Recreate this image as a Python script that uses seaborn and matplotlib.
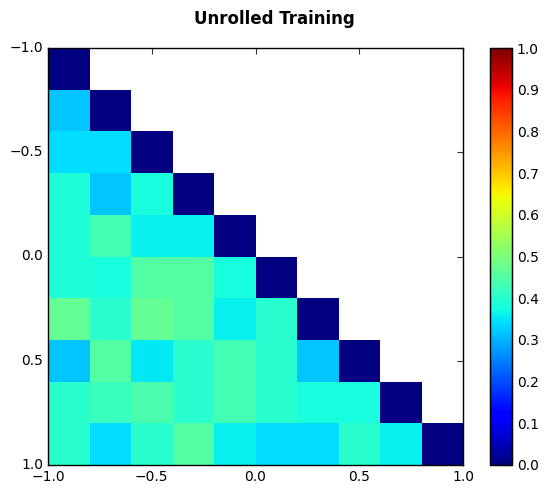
import numpy as np
import seaborn as sns
import matplotlib.pyplot as plt

# valores (triángulo inferior, diagonal = 0)
rows = [
    [0.00],
    [0.32, 0.00],
    [0.34, 0.34, 0.00],
    [0.39, 0.32, 0.38, 0.00],
    [0.39, 0.43, 0.36, 0.36, 0.00],
    [0.39, 0.38, 0.45, 0.45, 0.38, 0.00],
    [0.47, 0.40, 0.47, 0.45, 0.36, 0.40, 0.00],
    [0.32, 0.45, 0.355, 0.40, 0.43, 0.40, 0.32, 0.00],
    [0.40, 0.42, 0.44, 0.40, 0.43, 0.40, 0.38, 0.38, 0.00],
    [0.40, 0.34, 0.40, 0.45, 0.36, 0.34, 0.34, 0.40, 0.36, 0.00],
]
axis_ticks = [-1.0, -0.5, 0.0, 0.5, 1.0]
cbar_ticks = [0.0, 0.1, 0.2, 0.3, 0.4, 0.5, 0.6, 0.7, 0.8, 0.9, 1.0]
title = "Unrolled Training"

n = len(rows)
mat = np.full((n, n), np.nan)
for i, r in enumerate(rows):
    mat[i, :len(r)] = r
mask = np.isnan(mat)

sns.set_style("white")
plt.rcParams["font.family"] = ["DejaVu Sans"]
plt.rcParams["text.color"] = "black"
plt.rcParams["xtick.color"] = "black"
plt.rcParams["ytick.color"] = "black"
plt.rcParams["xtick.direction"] = "in"
plt.rcParams["ytick.direction"] = "in"

fig = plt.figure(figsize=(5.48, 4.93), dpi=100)
ax = fig.add_axes([48 / 548, 28 / 493, 415 / 548, 417 / 493])
cax = fig.add_axes([490 / 548, 28 / 493, 22 / 548, 417 / 493])

sns.heatmap(mat, mask=mask, cmap="jet", vmin=0, vmax=1, ax=ax, cbar_ax=cax,
            square=False, cbar_kws={"ticks": cbar_ticks})

# mapear las coordenadas -1..1 a las celdas 0..n
pos = [(t + 1) / 2 * n for t in axis_ticks]
labels = [f"{t:.1f}".replace("-", "\u2212") for t in axis_ticks]
ax.set_xticks(pos)
ax.set_xticklabels(labels, rotation=0, fontsize=10, color="black")
ax.set_yticks(pos)
ax.set_yticklabels(labels, rotation=0, fontsize=10, color="black")
ax.tick_params(top=True, right=True, direction="in", length=4, color="#333333")
for s in ax.spines.values():
    s.set_visible(True)
    s.set_color("black")
    s.set_linewidth(1)

cax.set_yticklabels([f"{t:.1f}" for t in cbar_ticks], color="black")
cax.tick_params(labelsize=10, direction="in", length=4, right=True)
for s in cax.spines.values():
    s.set_visible(True)
cbar = ax.collections[0].colorbar
cbar.outline.set_visible(True)
cbar.outline.set_edgecolor("black")
cbar.outline.set_linewidth(1)

fig.suptitle(title, fontweight="bold", fontsize=12, y=0.98, color="black")
fig.savefig("out.png", dpi=100)
